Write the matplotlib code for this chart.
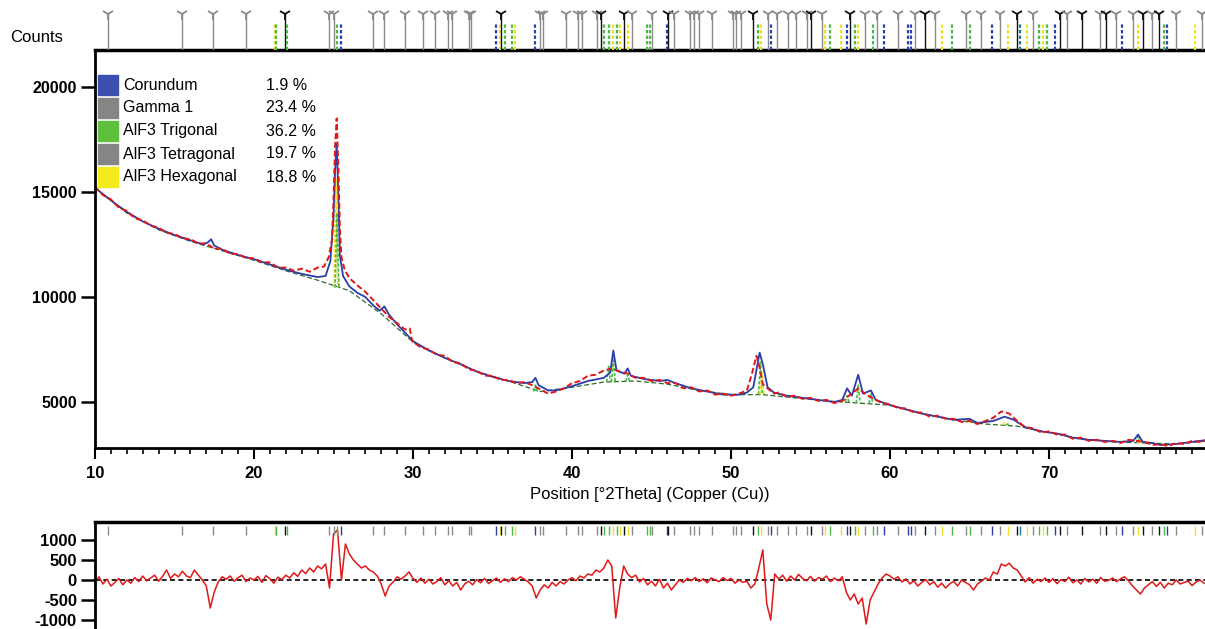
import numpy as np
import matplotlib.pyplot as plt
from matplotlib.patches import Rectangle

plt.rcParams['font.family'] = ['Liberation Sans', 'DejaVu Sans']
plt.rcParams['axes.unicode_minus'] = False

W, H = 1205, 629

# observed pattern
tt_obs = [10.0, 10.5, 11.0, 11.5, 12.0, 12.5, 13.0, 13.5, 14.0, 14.5,
          15.0, 15.5, 16.0, 16.5, 17.0, 17.5, 18.0, 18.5, 19.0, 19.5,
          20.0, 20.5, 21.0, 21.5, 22.0, 22.5, 23.0, 23.5, 24.0, 24.4,
          24.7, 24.9, 25.0, 25.1, 25.2, 25.3, 25.4, 25.5, 25.7, 26.0,
          26.5, 27.0, 27.5, 28.0, 28.5, 29.0, 29.5, 29.8, 29.9, 30.0,
          30.5, 31.0, 31.5, 32.0, 32.5, 33.0, 33.5, 34.0, 34.5, 35.0,
          35.5, 36.0, 36.5, 37.0, 37.5, 38.0, 38.5, 39.0, 39.5, 40.0,
          40.5, 41.0, 41.5, 42.0, 42.5, 43.0, 43.5, 44.0, 44.5, 45.0,
          45.5, 46.0, 46.5, 47.0, 47.5, 48.0, 48.5, 49.0, 49.5, 50.0,
          50.5, 51.0, 51.3, 51.6, 51.8, 52.0, 52.3, 52.7, 53.0, 53.5,
          54.0, 54.5, 55.0, 55.5, 56.0, 56.5, 57.0, 57.5, 58.0, 58.5,
          59.0, 59.5, 60.0, 60.5, 61.0, 61.5, 62.0, 62.5, 63.0, 63.5,
          64.0, 64.5, 65.0, 65.5, 66.0, 66.5, 67.0, 67.5, 68.0, 68.5,
          69.0, 69.5, 70.0, 70.5, 71.0, 71.5, 72.0, 72.5, 73.0, 73.5,
          74.0, 74.5, 75.0, 75.5, 76.0, 76.5, 77.0, 77.5, 78.0, 78.5,
          79.0, 79.5, 80.0]
obs = [15250, 14850, 14650, 14250, 14100, 13750, 13650, 13400, 13300, 13050,
       13000, 12800, 12750, 12550, 12550, 12300, 12300, 12050, 12050, 11850,
       11850, 11650, 11650, 11400, 11400, 11250, 11350, 11200, 11400, 11450,
       11900, 12700, 14600, 17200, 18500, 16300, 13300, 11900, 11300, 10900,
       10550, 10250, 9850, 9450, 9050, 8750, 8450, 8500, 8050, 7850,
       7600, 7500, 7250, 7200, 6900, 6850, 6550, 6500, 6250, 6250,
       6050, 6050, 5900, 5950, 5800, 5600, 5400, 5500, 5650, 5900,
       6000, 6250, 6300, 6500, 6600, 6450, 6350, 6150, 6150, 6000,
       6050, 5900, 5900, 5650, 5700, 5500, 5550, 5350, 5400, 5300,
       5400, 5550, 6300, 7200, 6650, 5850, 5650, 5400, 5450, 5250,
       5300, 5150, 5200, 5050, 5100, 4950, 5050, 5350, 5650, 5350,
       5150, 4950, 4900, 4700, 4700, 4500, 4500, 4300, 4350, 4200,
       4200, 4050, 4100, 3950, 4100, 4250, 4550, 4450, 4100, 3800,
       3750, 3550, 3600, 3450, 3450, 3250, 3300, 3150, 3200, 3100,
       3150, 3050, 3200, 3150, 3100, 2950, 3000, 2900, 3050, 3000,
       3150, 3100, 3200]

# calculated profile
tt_calc = [10.0, 11.0, 12.0, 13.0, 14.0, 15.0, 16.0, 16.8, 17.1, 17.3,
           17.5, 18.0, 19.0, 20.0, 21.0, 22.0, 23.0, 24.0, 24.5, 24.8,
           25.0, 25.1, 25.2, 25.3, 25.4, 25.6, 26.0, 26.5, 27.0, 27.5,
           27.9, 28.2, 28.5, 29.0, 30.0, 31.0, 32.0, 33.0, 34.0, 35.0,
           36.0, 37.0, 37.5, 37.7, 37.9, 38.5, 39.0, 40.0, 41.0, 42.0,
           42.4, 42.6, 42.8, 43.3, 43.5, 43.7, 44.5, 45.5, 46.0, 46.5,
           47.5, 48.5, 49.5, 50.5, 51.0, 51.4, 51.8, 52.0, 52.3, 52.7,
           53.5, 54.5, 55.5, 56.5, 57.0, 57.3, 57.6, 58.0, 58.3, 58.8,
           59.1, 60.0, 61.0, 62.0, 63.0, 64.0, 65.0, 65.5, 66.5, 67.2,
           67.8, 68.5, 69.5, 70.5, 71.5, 72.5, 73.5, 74.5, 75.3, 75.6,
           75.9, 76.5, 77.0, 78.0, 79.0, 80.0]
calc = [15200, 14600, 14050, 13600, 13250, 12950, 12700, 12500, 12600, 12750,
        12450, 12250, 12000, 11800, 11550, 11300, 11100, 10950, 11000, 11700,
        13800, 16000, 17300, 15000, 12000, 11000, 10500, 10200, 10000, 9600,
        9350, 9550, 9150, 8700, 7900, 7450, 7100, 6800, 6450, 6200,
        6000, 5900, 5950, 6150, 5800, 5550, 5550, 5750, 6000, 6150,
        6400, 7450, 6500, 6350, 6600, 6250, 6100, 6000, 6050, 5900,
        5650, 5500, 5350, 5350, 5450, 5700, 7350, 6800, 5700, 5450,
        5300, 5200, 5100, 5000, 5100, 5650, 5300, 6300, 5400, 5550,
        5100, 4850, 4650, 4450, 4300, 4150, 4200, 4000, 4100, 4300,
        4150, 3800, 3600, 3500, 3300, 3200, 3150, 3100, 3150, 3450,
        3100, 3050, 2950, 3000, 3100, 3200]

# fitted background
tt_bg = [10, 12, 14, 16, 18, 20, 22, 24, 26, 28, 30, 32, 34, 36, 38, 40, 42, 44,
         46, 48, 50, 52, 54, 56, 58, 60, 62, 64, 66, 68, 70, 72, 74, 76, 78, 80]
bg = [15200, 14000, 13200, 12650, 12200, 11750, 11250, 10800, 10300, 9200,
      7850, 7100, 6450, 6000, 5500, 5700, 5950, 6000, 5850, 5550, 5350, 5350,
      5200, 5050, 4950, 4850, 4450, 4150, 3950, 3850, 3550, 3250, 3100, 3050,
      3000, 3150]

# single-phase reflections: position, base, top, phase colour
ph_pos = [25.15, 25.22, 42.3, 42.6, 43.5, 51.85, 51.95, 57.3, 58.0, 58.8,
          65.0, 67.2, 67.4, 75.6, 75.7, 37.7]
ph_base = [10450, 10450, 5950, 5950, 5980, 5360, 5360, 5000, 4950, 4930,
           4030, 3900, 3900, 3050, 3050, 5500]
ph_top = [15600, 14000, 6700, 7000, 6300, 6900, 6400, 5300, 5800, 5400,
          4150, 4000, 3950, 3400, 3300, 5800]
ph_col = ['y', 'g', 'g', 'g', 'g', 'g', 'y', 'g', 'g', 'g',
          'y', 'y', 'g', 'g', 'y', 'g']

# difference plot, 0.25 deg steps from 10 deg
diff = [-50, 80, -100, 20, -150, -60, 40, -120, 0, -80, 60, -40, 100, -20, 50, 120, -30, 90, 250, 40,
        150, 80, 220, 100, 60, 250, 120, 0, -150, -700, -300, -50, 80, 20, 100, -30, 60, 120, -40, 50,
        0, 90, -60, 110, 30, -80, 70, 10, 120, 50, 180, 90, 250, 160, 300, 200, 350, 280, 400, -200,
        1150, 1250, 0, 900, 650, 500, 400, 300, 350, 250, 200, 100, -100, -400, -150, -50, 80, 20, 100, 200,
        40, -60, 50, -80, 20, -100, -40, 60, -120, -20, -150, -60, -250, -100, -30, -120, 10, -70, 40, -90,
        -20, 50, -60, 30, -40, 60, 0, 80, 20, -50, -150, -450, -250, -120, -200, -60, -150, -40, -100, 0,
        60, -20, 100, 50, 150, 120, 250, 200, 300, 500, 350, -950, -200, 350, 150, 60, 120, -50, 40, -120,
        -30, -150, 20, -200, -80, -250, -120, 0, -60, 40, -20, 60, -40, 30, -70, 50, 0, -40, 60, -10,
        40, -80, 0, -60, -30, -200, -100, 300, 750, -600, -1000, 150, 20, 120, -30, 100, 0, 140, 40, -20,
        90, -30, 60, 20, 100, -40, 50, -20, 80, -300, -500, -350, -600, -450, -1100, -500, -300, -100, 50, 150,
        100, 20, 80, -50, 30, -100, -20, -150, -60, 10, -120, -40, -180, -80, -200, -100, -30, -150, 0, -60,
        -120, -250, -100, -30, 50, 0, 200, 150, 400, 350, 420, 300, 250, 100, -50, 60, -80, 20, -40, 50,
        -60, 30, -90, 10, -40, 70, -70, 0, -100, 40, -50, 20, -80, 60, -30, -10, 50, -40, 30, 80,
        -20, -150, -250, -350, -200, -120, -40, -160, -60, -200, -80, -120, 0, -100, -60, -30, -140, -50, 0, -80]
tt_diff = 10 + 0.25 * np.arange(len(diff))

# reference pattern stick positions and phase colours
stick_pos = [10.8, 15.5, 17.4, 19.5, 21.3, 21.4, 21.95, 22.1, 24.7, 25.0, 25.2, 25.5,
             27.5, 28.2, 29.5, 30.6, 31.4, 32.2, 32.45, 33.5, 33.65, 35.2, 35.5, 35.55,
             35.8, 36.2, 36.4, 37.7, 38.0, 38.2, 39.6, 40.4, 40.6, 41.6, 41.8, 42.0,
             42.3, 42.6, 42.8, 43.0, 43.3, 43.5, 43.8, 44.7, 44.9, 45.0, 46.0, 46.05,
             46.4, 47.4, 47.7, 48.0, 48.8, 50.1, 50.3, 50.6, 51.4, 51.7, 51.9, 52.3,
             52.5, 52.9, 53.6, 54.1, 54.8, 55.0, 55.7, 55.9, 56.2, 56.9, 57.3, 57.5,
             57.8, 58.0, 58.4, 58.9, 59.2, 59.6, 60.5, 61.1, 61.3, 61.6, 62.2, 62.8,
             63.3, 63.9, 64.8, 65.0, 65.7, 66.4, 66.9, 67.4, 68.0, 68.2, 68.6, 69.0,
             69.4, 69.6, 69.9, 70.4, 70.7, 71.1, 72.1, 73.2, 73.6, 74.2, 74.6, 75.3,
             75.6, 75.9, 76.5, 76.9, 77.2, 77.4, 78.0, 79.2, 79.6]
stick_col = ['G', 'G', 'G', 'G', 'y', 'g', 'k', 'g', 'G', 'G', 'g', 'b',
             'G', 'G', 'G', 'G', 'G', 'G', 'G', 'G', 'G', 'b', 'y', 'k',
             'g', 'g', 'y', 'b', 'G', 'G', 'G', 'G', 'G', 'G', 'k', 'g',
             'g', 'y', 'g', 'y', 'k', 'y', 'G', 'g', 'g', 'G', 'b', 'k',
             'G', 'G', 'G', 'G', 'G', 'G', 'G', 'G', 'k', 'g', 'y', 'G',
             'b', 'G', 'G', 'G', 'G', 'k', 'G', 'y', 'g', 'y', 'b', 'k',
             'g', 'y', 'G', 'g', 'G', 'b', 'G', 'b', 'b', 'G', 'k', 'G',
             'y', 'g', 'G', 'g', 'G', 'b', 'G', 'y', 'k', 't', 'y', 'G',
             'g', 'y', 'g', 'b', 'k', 'G', 'k', 'G', 'k', 'G', 'b', 'G',
             'y', 'k', 'G', 'k', 'g', 'b', 'G', 'y', 'G']

colors = {'G': '#8a8a8a', 'k': '#111111', 'b': '#2b3dab', 'g': '#4cb848',
          'y': '#f0e020', 't': '#1a7f8a'}

phases = ['Corundum', 'Gamma 1', 'AlF3 Trigonal', 'AlF3 Tetragonal', 'AlF3 Hexagonal']
phase_pct = [1.9, 23.4, 36.2, 19.7, 18.8]
phase_col = ['#3a4fb0', '#858585', '#5dbf3c', '#858585', '#f2ea1a']


def fx(px):
    return px / W


def fy(py):
    return 1 - py / H


fig = plt.figure(figsize=(W / 100, H / 100), dpi=100)
ax = fig.add_axes([fx(95), fy(448), 1 - fx(95), fy(50) - fy(448)])
ax_st = fig.add_axes([fx(95), fy(50), 1 - fx(95), fy(8) - fy(50)], sharex=ax)
ax_d = fig.add_axes([fx(95), 0, 1 - fx(95), fy(522)], sharex=ax)

# main pattern
ax.plot(tt_bg, bg, color='#2e6b2e', lw=0.9, ls=(0, (4, 2)))
for p, b, t, c in zip(ph_pos, ph_base, ph_top, ph_col):
    ax.plot([p - 0.12, p, p + 0.12], [b, t, b], color=colors[c], lw=1.2, ls=(0, (2, 1)))
ax.plot(tt_calc, calc, color='#2b3dab', lw=1.3)
ax.plot(tt_obs, obs, color='#e01818', lw=1.4, ls=(0, (3, 1.5)))

ax.set_xlim(10, 79.81)
ax.set_ylim(2810, 21760)
ax.set_xticks(range(10, 80, 10))
ax.set_xticks(range(10, 80), minor=True)
ax.set_yticks([5000, 10000, 15000, 20000])
ax.tick_params(axis='x', which='major', length=8, width=1.5, labelsize=12, pad=5)
ax.tick_params(axis='x', which='minor', length=4, width=1.2)
ax.tick_params(axis='y', length=10, width=1.8, labelsize=11.5, pad=3)
for lab in ax.get_xticklabels() + ax.get_yticklabels():
    lab.set_fontweight('bold')
ax.spines['right'].set_visible(False)
for s in ['left', 'bottom']:
    ax.spines[s].set_linewidth(2)
ax.spines['top'].set_linewidth(2.5)
ax.set_xlabel('Position [°2Theta] (Copper (Cu))', fontsize=12, labelpad=4)

# stick pattern above the plot
ax_st.set_ylim(0, 1)
ax_st.axis('off')
for p, c in zip(stick_pos, stick_col):
    if c in 'Gk':
        ax_st.vlines(p, 0, 0.88, color=colors[c], lw=1.0)
        ax_st.plot(p, 0.85, marker='1', ms=9, mew=1.3, color=colors[c])
    else:
        ax_st.vlines(p, 0, 0.62, color=colors[c], lw=1.6, ls=(0, (1.5, 1)))

fig.text(fx(10), fy(38), 'Counts', fontsize=12, va='center', ha='left')

# phase legend
for i, (name, pct, col) in enumerate(zip(phases, phase_pct, phase_col)):
    yc = 85 + 23 * i
    fig.add_artist(Rectangle((fx(98), fy(yc + 10)), fx(20), 20 / H, color=col,
                             transform=fig.transFigure))
    fig.text(fx(123), fy(yc), name, fontsize=11.5, va='center', ha='left')
    fig.text(fx(266), fy(yc), f'{pct} %', fontsize=11.5, va='center', ha='left')

# difference plot
ax_d.axhline(0, color='black', lw=1.2, ls=(0, (3, 2)))
ax_d.plot(tt_diff, diff, color='#e01818', lw=1.1)
for p, c in zip(stick_pos, stick_col):
    ax_d.vlines(p, 0.88, 0.96, color=colors[c], lw=1.0, transform=ax_d.get_xaxis_transform())
ax_d.set_ylim(-1225, 1450)
ax_d.set_yticks([-1000, -500, 0, 500, 1000])
ax_d.tick_params(axis='y', length=10, width=1.8, labelsize=12, pad=3)
ax_d.tick_params(axis='x', bottom=False, labelbottom=False, which='both')
for lab in ax_d.get_yticklabels():
    lab.set_fontweight('bold')
ax_d.spines['right'].set_visible(False)
ax_d.spines['bottom'].set_visible(False)
ax_d.spines['left'].set_linewidth(2)
ax_d.spines['top'].set_linewidth(2.5)
plt.setp(ax_st.get_xticklabels(), visible=False)

fig.savefig('out.png', dpi=100)
